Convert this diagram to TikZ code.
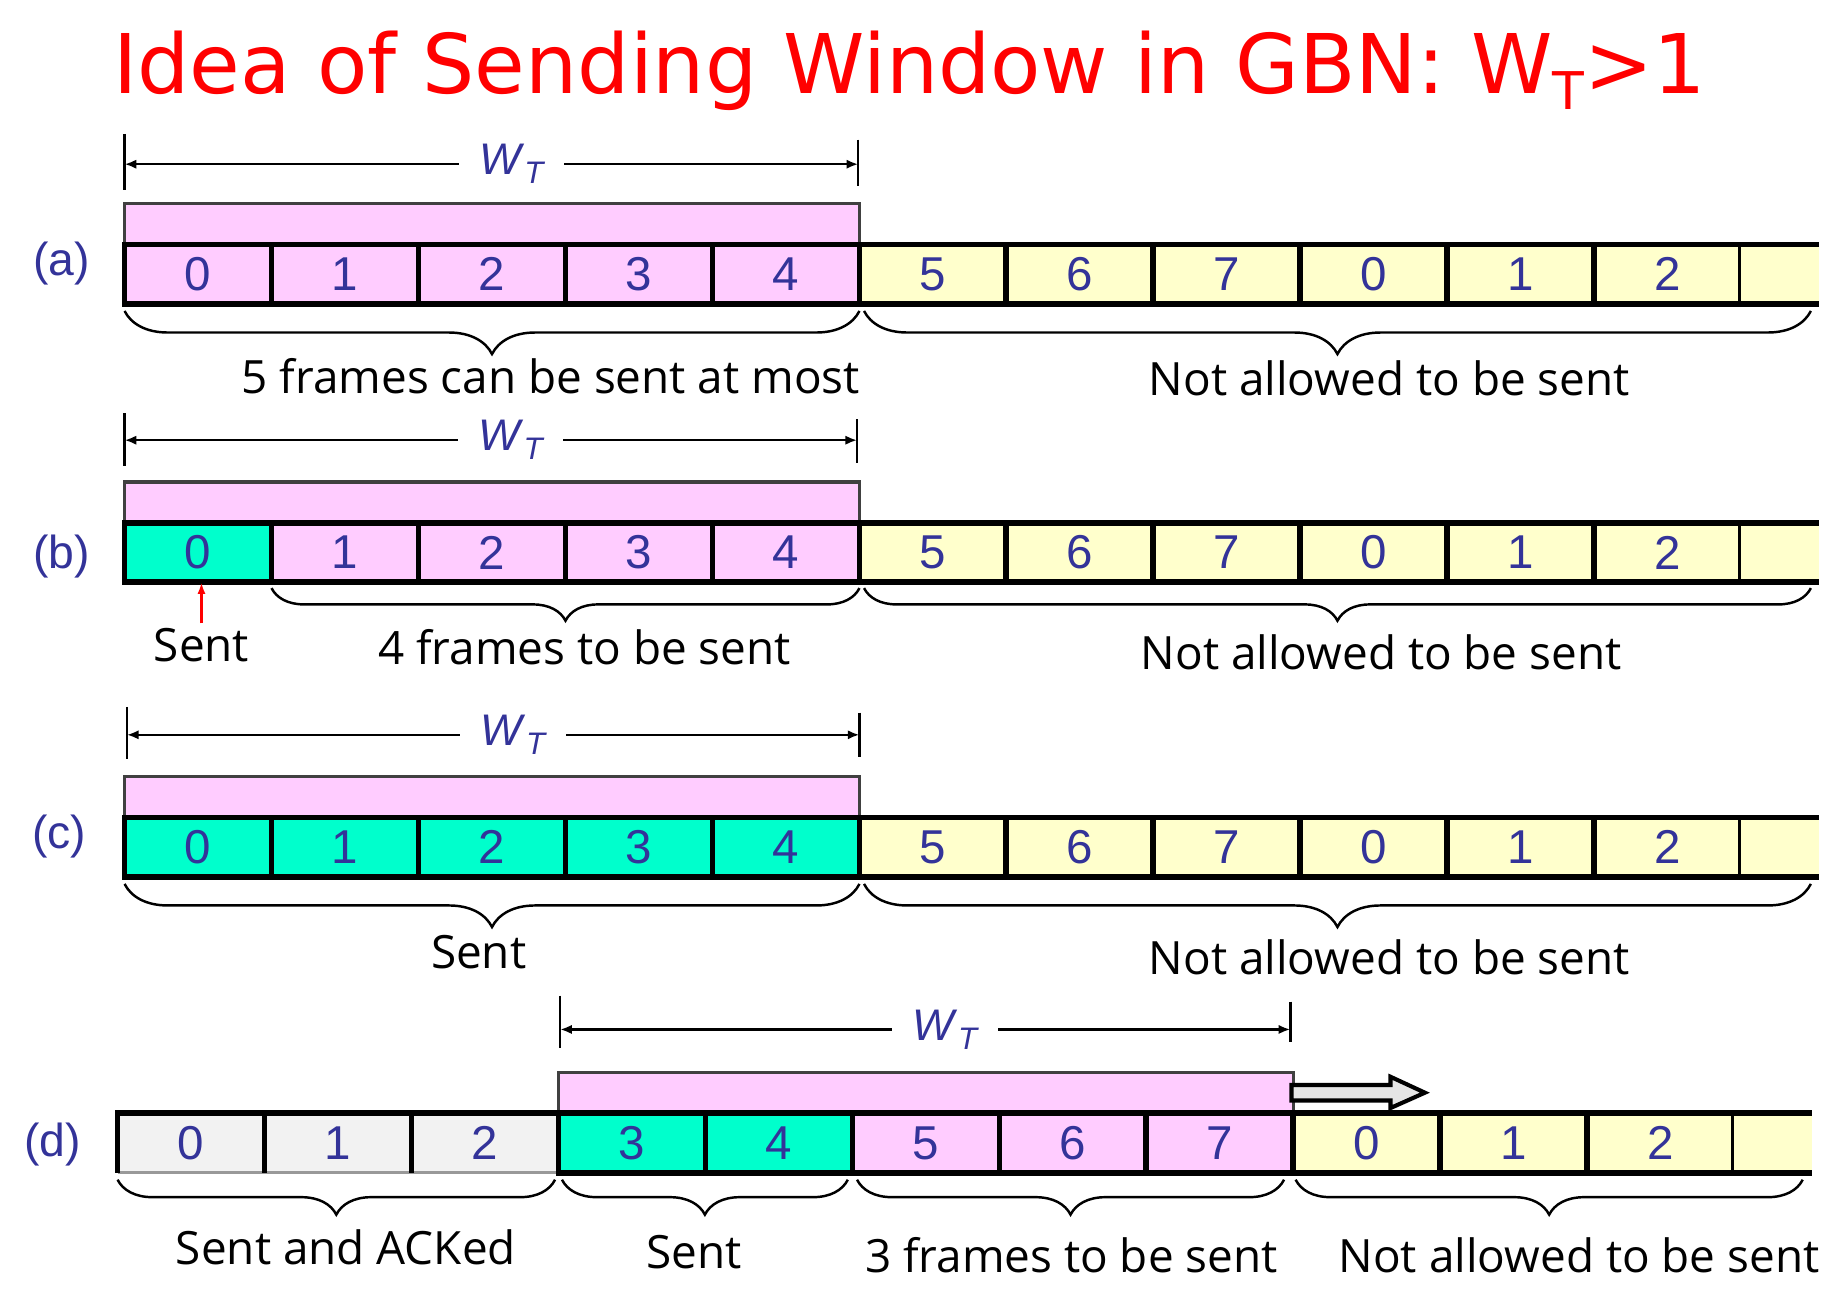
\documentclass[tikz,border=0pt]{standalone}
\usepackage{fontspec}
\setmainfont{Liberation Sans}
\newfontfamily\headfont{DejaVu Sans}
\newfontfamily\notefont{Open Sans}
\usetikzlibrary{arrows.meta,decorations.pathreplacing}

\definecolor{winpink}{HTML}{FFCCFF}
\definecolor{waityel}{HTML}{FFFFCC}
\definecolor{sentgrn}{HTML}{00FFCC}
\definecolor{ackgray}{HTML}{F2F2F2}
\definecolor{numblue}{HTML}{333399}

\newcommand{\wsub}{\textit{W}\raisebox{-2.2pt}{\fontsize{7.6}{8}\selectfont\itshape T}}

\begin{document}
\begin{tikzpicture}[x=0.01cm, y=-0.01cm,
    cell/.style={draw, line width=1.4pt, minimum width=1.262cm, minimum height=0.51cm,
        inner sep=0pt, outer sep=0pt, font=\fontsize{11.6}{13}\selectfont, text=numblue},
    tailcell/.style={cell, draw=none, minimum width=0.668cm},
    window/.style={draw=black!75, line width=0.8pt, fill=winpink, minimum width=6.31cm,
        minimum height=0.35cm, inner sep=0pt, outer sep=0pt, anchor=south west},
    rowline/.style={line width=1.4pt},
    tickline/.style={line width=0.6pt},
    dimarrow/.style={{Latex[length=1mm,width=0.8mm]}-{Latex[length=1mm,width=0.8mm]}, line width=0.6pt},
    wt/.style={fill=white, inner xsep=5pt, inner ysep=1pt, text=numblue, font=\fontsize{10.8}{13}\selectfont},
    bracedown/.style={decorate, decoration={brace, mirror, amplitude=0.37cm}, line width=0.6pt},
    note/.style={anchor=base, inner sep=1pt, font=\notefont\fontsize{11.2}{13}\selectfont},
    rowlabel/.style={text=numblue, font=\fontsize{11.3}{13}\selectfont}
]
\useasboundingbox (0,0) rectangle (1568,1115);

% Title
\node[text=red, anchor=base, font=\headfont\fontsize{20.1}{24}\selectfont] (title) at (781,80)
    {Idea of Sending Window in GBN: W\raisebox{-3.9pt}{\fontsize{12.7}{14}\selectfont T}>1};

% ---------- Row (a) ----------
\node[rowlabel] (la) at (53,226) {(a)};
\node[window] (wa) at (107,210) {};
\node[cell, fill=winpink] (a0) at (170.1,235.5) {0};
\node[cell, fill=winpink] (a1) at (296.3,235.5) {1};
\node[cell, fill=winpink] (a2) at (422.5,235.5) {2};
\node[cell, fill=winpink] (a3) at (548.7,235.5) {3};
\node[cell, fill=winpink] (a4) at (674.9,235.5) {4};
\node[cell, fill=waityel] (a5) at (801.1,235.5) {5};
\node[cell, fill=waityel] (a6) at (927.3,235.5) {6};
\node[cell, fill=waityel] (a7) at (1053.5,235.5) {7};
\node[cell, fill=waityel] (a8) at (1179.7,235.5) {0};
\node[cell, fill=waityel] (a9) at (1305.9,235.5) {1};
\node[cell, fill=waityel] (a10) at (1432.1,235.5) {2};
\node[tailcell, fill=waityel] (a11) at (1528.6,235.5) {};
\draw[rowline] (a10.north east) -- (a11.north east);
\draw[rowline] (a10.south east) -- (a11.south east);

% window size
\coordinate (aL) at (107,141);
\coordinate (aR) at (737,141);
\draw[tickline] (107,115) -- (107,163);
\draw[tickline] (737,120) -- (737,160);
\draw[dimarrow] (aL) -- node[wt, pos=0.527] (wta) {\wsub} (aR);

% braces
\draw[bracedown] ([yshift=-0.06cm]a0.south west) -- ([yshift=-0.06cm]a4.south east);
\draw[bracedown] ([xshift=0.04cm, yshift=-0.06cm]a5.south west) -- ([xshift=-0.07cm, yshift=-0.06cm]a11.south east);
\node[note] (na1) at (473,338) {5 frames can be sent at most};
\node[note] (na2) at (1193,340) {Not allowed to be sent};

% ---------- Row (b) ----------
\node[rowlabel] (lb) at (53,478) {(b)};
\node[window] (wb) at (107,449) {};
\node[cell, fill=sentgrn] (b0) at (170.1,474.5) {0};
\node[cell, fill=winpink] (b1) at (296.3,474.5) {1};
\node[cell, fill=winpink] (b2) at (422.5,474.5) {2};
\node[cell, fill=winpink] (b3) at (548.7,474.5) {3};
\node[cell, fill=winpink] (b4) at (674.9,474.5) {4};
\node[cell, fill=waityel] (b5) at (801.1,474.5) {5};
\node[cell, fill=waityel] (b6) at (927.3,474.5) {6};
\node[cell, fill=waityel] (b7) at (1053.5,474.5) {7};
\node[cell, fill=waityel] (b8) at (1179.7,474.5) {0};
\node[cell, fill=waityel] (b9) at (1305.9,474.5) {1};
\node[cell, fill=waityel] (b10) at (1432.1,474.5) {2};
\node[tailcell, fill=waityel] (b11) at (1528.6,474.5) {};
\draw[rowline] (b10.north east) -- (b11.north east);
\draw[rowline] (b10.south east) -- (b11.south east);

% window size
\coordinate (bL) at (107,378);
\coordinate (bR) at (736,378);
\draw[tickline] (107,355) -- (107,400);
\draw[tickline] (736,360) -- (736,398);
\draw[dimarrow] (bL) -- node[wt, pos=0.527] (wtb) {\wsub} (bR);

% braces
\draw[bracedown, decoration={amplitude=0.28cm}] ([yshift=-0.05cm]b1.south west) -- ([yshift=-0.05cm]b4.south east);
\draw[bracedown, decoration={amplitude=0.28cm}] ([xshift=0.04cm, yshift=-0.05cm]b5.south west) -- ([xshift=-0.07cm, yshift=-0.05cm]b11.south east);
\node[note] (sentb) at (173,568) {Sent};
\draw[-{Latex[length=1mm,width=0.7mm]}, red, line width=0.6pt] (sentb.north) -- (sentb.north |- b0.south);
\node[note] (nb1) at (502,571) {4 frames to be sent};
\node[note] (nb2) at (1186,575) {Not allowed to be sent};

% ---------- Row (c) ----------
\node[rowlabel] (lc) at (51,718) {(c)};
\node[window] (wc) at (107,702) {};
\node[cell, fill=sentgrn] (c0) at (170.1,727.5) {0};
\node[cell, fill=sentgrn] (c1) at (296.3,727.5) {1};
\node[cell, fill=sentgrn] (c2) at (422.5,727.5) {2};
\node[cell, fill=sentgrn] (c3) at (548.7,727.5) {3};
\node[cell, fill=sentgrn] (c4) at (674.9,727.5) {4};
\node[cell, fill=waityel] (c5) at (801.1,727.5) {5};
\node[cell, fill=waityel] (c6) at (927.3,727.5) {6};
\node[cell, fill=waityel] (c7) at (1053.5,727.5) {7};
\node[cell, fill=waityel] (c8) at (1179.7,727.5) {0};
\node[cell, fill=waityel] (c9) at (1305.9,727.5) {1};
\node[cell, fill=waityel] (c10) at (1432.1,727.5) {2};
\node[tailcell, fill=waityel] (c11) at (1528.6,727.5) {};
\draw[rowline] (c10.north east) -- (c11.north east);
\draw[rowline] (c10.south east) -- (c11.south east);

% window size
\coordinate (cL) at (109,631);
\coordinate (cR) at (738,631);
\draw[tickline] (109,607) -- (109,652);
\draw[tickline] (738,612) -- (738,650);
\draw[dimarrow] (cL) -- node[wt, pos=0.527] (wtc) {\wsub} (cR);

% braces
\draw[bracedown] ([yshift=-0.06cm]c0.south west) -- ([yshift=-0.06cm]c4.south east);
\draw[bracedown] ([xshift=0.04cm, yshift=-0.06cm]c5.south west) -- ([xshift=-0.07cm, yshift=-0.06cm]c11.south east);
\node[note] (nc1) at (411,832) {Sent};
\node[note] (nc2) at (1193,837) {Not allowed to be sent};

% ---------- Row (d) ----------
\node[rowlabel] (ld) at (45,983) {(d)};
\node[window] (wd) at (479.6,956) {};
% window slides on
\draw[line width=1pt, fill=black!10] (1109,931.7) -- (1194,931.7) -- (1194,924.6) -- (1223.6,938.3)
    -- (1194,951.5) -- (1194,945) -- (1109,945) -- cycle;
\node[cell, draw=none, fill=ackgray] (d0) at (164.1,981.5) {0};
\node[cell, draw=none, fill=ackgray] (d1) at (290.3,981.5) {1};
\node[cell, draw=none, fill=ackgray] (d2) at (416.5,981.5) {2};
\draw[black!40, line width=0.6pt] (d0.south west) -- (d2.south east);
\draw[rowline] (d0.south west) -- (d0.north west) -- (d2.north east);
\draw[rowline] (d0.north east) -- (d0.south east);
\draw[rowline] (d1.north east) -- (d1.south east);
\node[cell, fill=sentgrn] (d3) at (542.7,981.5) {3};
\node[cell, fill=sentgrn] (d4) at (668.9,981.5) {4};
\node[cell, fill=winpink] (d5) at (795.1,981.5) {5};
\node[cell, fill=winpink] (d6) at (921.3,981.5) {6};
\node[cell, fill=winpink] (d7) at (1047.5,981.5) {7};
\node[cell, fill=waityel] (d8) at (1173.7,981.5) {0};
\node[cell, fill=waityel] (d9) at (1299.9,981.5) {1};
\node[cell, fill=waityel] (d10) at (1426.1,981.5) {2};
\node[tailcell, fill=waityel] (d11) at (1522.6,981.5) {};
\draw[rowline] (d10.north east) -- (d11.north east);
\draw[rowline] (d10.south east) -- (d11.south east);

% window size
\coordinate (dL) at (481,884);
\coordinate (dR) at (1108,884);
\draw[tickline] (481,855) -- (481,900);
\draw[tickline] (1108,860) -- (1108,895);
\draw[dimarrow] (dL) -- node[wt, pos=0.527] (wtd) {\wsub} (dR);

% braces
\draw[bracedown, decoration={amplitude=0.3cm}] ([yshift=-0.06cm]d0.south west) -- ([xshift=-0.03cm, yshift=-0.06cm]d2.south east);
\draw[bracedown, decoration={amplitude=0.3cm}] ([xshift=0.03cm, yshift=-0.06cm]d3.south west) -- ([xshift=-0.04cm, yshift=-0.06cm]d4.south east);
\draw[bracedown, decoration={amplitude=0.3cm}] ([xshift=0.04cm, yshift=-0.06cm]d5.south west) -- ([xshift=-0.08cm, yshift=-0.06cm]d7.south east);
\draw[bracedown, decoration={amplitude=0.3cm}] ([xshift=0.02cm, yshift=-0.06cm]d8.south west) -- ([xshift=-0.08cm, yshift=-0.06cm]d11.south east);
\node[note] (nd1) at (297,1086) {Sent and ACKed};
\node[note] (nd2) at (596,1089) {Sent};
\node[note] (nd3) at (920,1093) {3 frames to be sent};
\node[note] (nd4) at (1356,1093) {Not allowed to be sent};
\end{tikzpicture}
\end{document}
